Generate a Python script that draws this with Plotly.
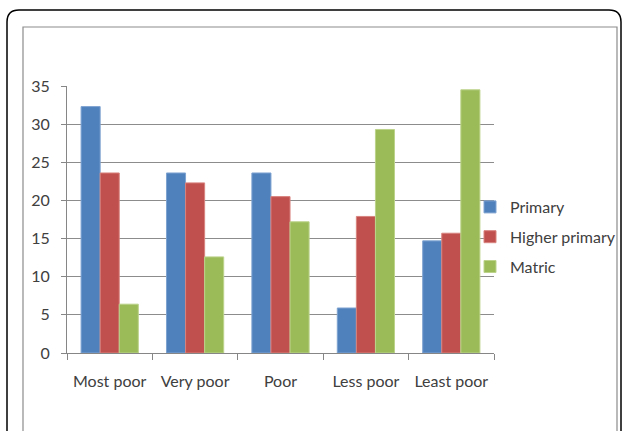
import plotly.graph_objects as go

categories = ["Most poor", "Very poor", "Poor", "Less poor", "Least poor"]
primary = [32.3, 23.6, 23.6, 5.9, 14.7]
higher_primary = [23.6, 22.3, 20.5, 17.9, 15.7]
matric = [6.4, 12.6, 17.2, 29.3, 34.5]
y_ticks = [0, 5, 10, 15, 20, 25, 30, 35]

W, H = 625, 431
L, R, T, B = 67, 494, 86, 353


def px(x):
    return (x - L) / (R - L)


def py(y):
    return (B - y) / (B - T)


series = [
    ("Primary", primary, "#4F81BD", "#7FA3D1"),
    ("Higher primary", higher_primary, "#C0504D", "#D8837F"),
    ("Matric", matric, "#9BBB59", "#BCD38B"),
]

fig = go.Figure()
for i, (name, vals, col, edge) in enumerate(series):
    fig.add_trace(go.Bar(
        x=categories, y=vals, name=name, legendgroup=name,
        marker=dict(color=col, line=dict(color=edge, width=1)),
    ))

font_family = "Lato, 'Open Sans', sans-serif"

# outer rounded border and inner gray frame
r = 12
x0, y0, x1, y1 = 7, 10, 621, 460
path = (f"M {px(x0)},{py(y0 + r)} L {px(x0)},{py(y1)} "
        f"M {px(x0)},{py(y0 + r)} Q {px(x0)},{py(y0)} {px(x0 + r)},{py(y0)} "
        f"L {px(x1 - r)},{py(y0)} Q {px(x1)},{py(y0)} {px(x1)},{py(y0 + r)} "
        f"L {px(x1)},{py(y1)}")

fig.update_layout(
    width=W, height=H,
    margin=dict(l=L, r=W - R, t=T, b=H - B, pad=0, autoexpand=False),
    paper_bgcolor="white", plot_bgcolor="white",
    barmode="group", bargap=0.33, bargroupgap=0,
    font=dict(family=font_family, size=16, color="#404040"),
    showlegend=True,
    legend=dict(
        x=px(470), xanchor="left", y=py(237), yanchor="middle",
        font=dict(size=16, color="#404040"),
        tracegroupgap=6, itemwidth=30, bgcolor="rgba(0,0,0,0)",
    ),
    shapes=[
        dict(type="path", xref="paper", yref="paper", path=path,
             line=dict(color="#000000", width=1.5), layer="above"),
        dict(type="rect", xref="paper", yref="paper",
             x0=px(23), x1=px(617), y0=py(460), y1=py(27),
             line=dict(color="#8C8C8C", width=1.2), layer="below"),
    ],
)

fig.update_xaxes(
    type="category", showline=True, linecolor="#868686", linewidth=1,
    ticks="outside", tickson="boundaries", ticklen=6, tickcolor="#868686",
    showgrid=False, tickfont=dict(size=16, color="#404040"),
    ticklabelstandoff=14, tickangle=0,
)
fig.update_yaxes(
    range=[0, 35], tickvals=y_ticks, showline=True, linecolor="#868686",
    linewidth=1, ticks="outside", ticklen=5, tickcolor="#868686",
    showgrid=True, gridcolor="#8C8C8C", gridwidth=1, zeroline=False,
    tickfont=dict(size=16, color="#404040"), ticklabelstandoff=8,
)

fig.write_html(
    "out.html",
    config={"displayModeBar": False},
    post_script="document.body.style.margin='0';document.body.style.padding='0';",
)
